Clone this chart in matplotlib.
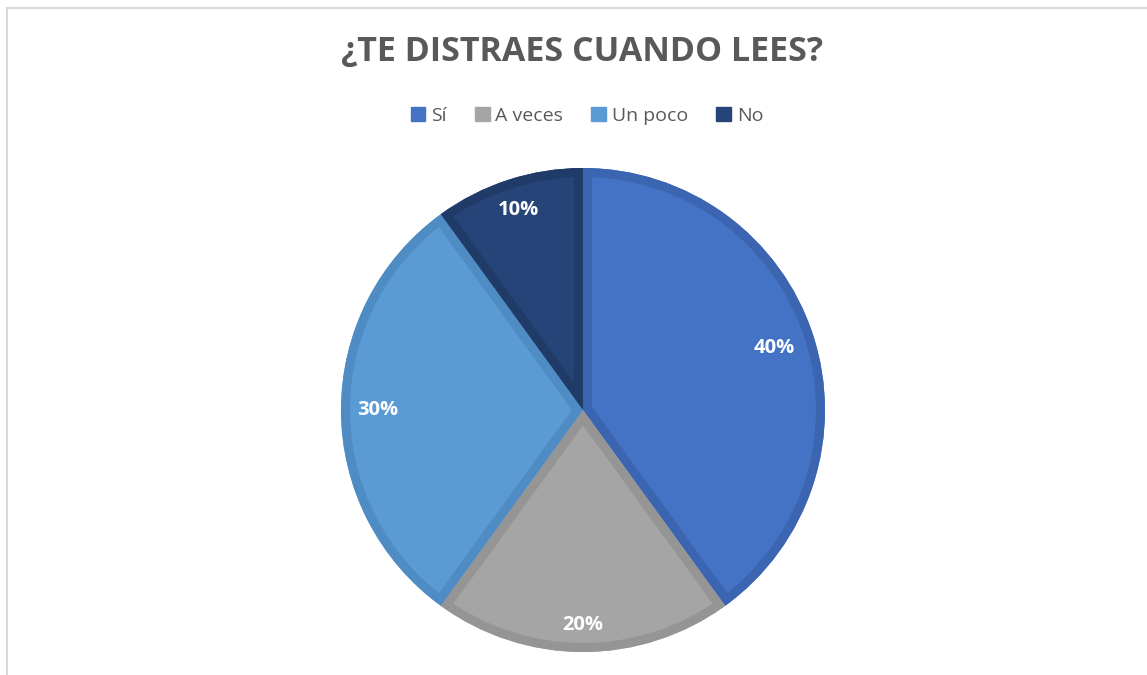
import numpy as np
import matplotlib.pyplot as plt
from matplotlib.patches import Rectangle, Wedge

# datos
categorias = ['Sí', 'A veces', 'Un poco', 'No']
valores = [40, 20, 30, 10]
colores = ['#4472C4', '#A5A5A5', '#5B9BD5', '#264478']
bordes = ['#3B65B0', '#959595', '#4F8CC4', '#203B68']
titulo = '¿TE DISTRAES CUANDO LEES?'

W, H = 1147, 675
fig = plt.figure(figsize=(W / 100, H / 100), dpi=100)
fig.patch.set_facecolor('white')

# marco gris arriba / izquierda
fig.add_artist(plt.Line2D([7 / W, 7 / W], [0, 1 - 8 / H], color='#D9D9D9', lw=1.5))
fig.add_artist(plt.Line2D([7 / W, 1], [1 - 8 / H, 1 - 8 / H], color='#D9D9D9', lw=1.5))

# pastel: centro (583, 410), radio 242 px
cx, cy, r = 583, H - 410, 242
lim = 1.1
size = r * 2 * lim
ax = fig.add_axes([(cx - size / 2) / W, (cy - size / 2) / H, size / W, size / H])

wedges, textos, autot = ax.pie(valores, colors=colores, startangle=90, counterclock=False,
                               radius=1, autopct='%1.0f%%', pctdistance=0.86,
                               textprops=dict(color='white', fontsize=14.5, fontweight='bold',
                                              family='Open Sans'))
# borde interior: una copia sin relleno recortada a cada cuña
for w, b in zip(wedges, bordes):
    w.set_linewidth(0)
    borde = Wedge(w.center, w.r, w.theta1, w.theta2, fill=False, edgecolor=b, linewidth=13,
                  zorder=w.get_zorder() + 0.1)
    ax.add_patch(borde)
    borde.set_clip_path(w)

# posición de las etiquetas como en Excel
for w, t, d in zip(wedges, autot, [0.83, 0.89, 0.85, 0.87]):
    ang = np.deg2rad((w.theta1 + w.theta2) / 2)
    t.set_position((d * np.cos(ang), d * np.sin(ang)))

ax.set_xlim(-lim, lim)
ax.set_ylim(-lim, lim)
ax.set_aspect('equal')
ax.axis('off')

fig.text(582 / W, 1 - 52 / H, titulo, ha='center', va='center', fontsize=24.5,
         fontweight='bold', color='#595959', family='Open Sans')

# leyenda
handles = [Rectangle((0, 0), 1, 1, color=c) for c in colores]
fig.legend(handles, categorias, loc='center', bbox_to_anchor=(587 / W, 1 - 116 / H), ncol=4,
           frameon=False, prop=dict(family='Open Sans', size=14), labelcolor='#595959',
           handlelength=0.75, handleheight=0.75, handletextpad=0.3, columnspacing=1.45)

fig.savefig('out.png', dpi=100)
